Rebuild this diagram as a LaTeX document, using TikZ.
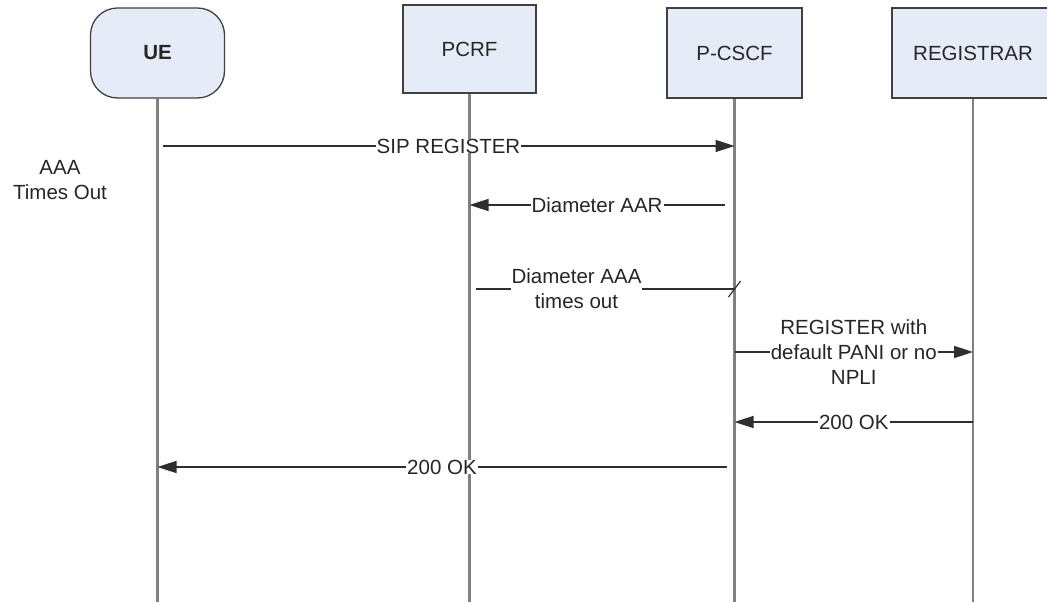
\documentclass[tikz,border=0pt]{standalone}
\usepackage{fontspec}
\setmainfont{Liberation Sans}
\usetikzlibrary{arrows.meta}
\definecolor{boxfill}{HTML}{E6ECF7}
\definecolor{lifegray}{HTML}{808080}
\definecolor{linedark}{HTML}{2E2E2E}
\newcommand{\seqfont}{\fontsize{20.5}{25}\selectfont}
\tikzstyle{entity} = [rectangle, minimum width=134pt, minimum height=90pt, text centered, draw=black!75, line width=1.3pt, fill=boxfill, text=black!85, font=\seqfont]
\tikzstyle{device} = [entity, rounded corners=27pt, font=\seqfont\bfseries]
\tikzstyle{lifeline} = [draw=lifegray, line width=2.6pt]
\tikzstyle{msgline} = [draw=linedark, line width=1.6pt]
\tikzstyle{msg} = [msgline, -{Triangle[length=19pt,width=12pt]}]
\tikzstyle{msglabel} = [fill=white, inner xsep=1pt, inner ysep=0pt, text=black!85, align=center, font=\seqfont]

\begin{document}
\begin{tikzpicture}[x=1pt, y=-1pt]
  \useasboundingbox (0,0) rectangle (1047,604);
  % participants
  \node (ue)[device] at (157.5,53) {UE};
  \node (pcrf)[entity, minimum width=133pt, minimum height=88pt] at (469.5,49) {PCRF};
  \node (pcscf)[entity, minimum width=135pt] at (734.5,53) {P-CSCF};
  \node (registrar)[entity, minimum width=162pt] at (973,53) {REGISTRAR};
  \node (timeout)[align=center, text=black!85, font=\seqfont] at (60,180) {AAA\\Times Out};
  % lifelines
  \draw[lifeline] (ue) -- (ue |- 0,602);
  \draw[lifeline] (pcrf) -- (pcrf |- 0,602);
  \draw[lifeline] (pcscf) -- (pcscf |- 0,602);
  \draw[lifeline] (registrar) -- (registrar |- 0,602);
  % messages
  \draw[msg] ([xshift=5pt]ue |- 0,146) -- node[msglabel]{SIP REGISTER} (pcscf |- 0,146);
  \draw[msg] ([xshift=-10pt]pcscf |- 0,205) -- node[msglabel]{Diameter AAR} (pcrf |- 0,205);
  \draw[msgline] ([xshift=6pt]pcrf |- 0,289) -- node[msglabel, pos=0.39]{Diameter AAA\\times out} (pcscf |- 0,289) coordinate (lost);
  \draw[msgline, line width=1.2pt] ([shift={(-6pt,-8pt)}]lost) -- ([shift={(6pt,8pt)}]lost);
  \draw[msg] (pcscf |- 0,352) -- node[msglabel]{REGISTER with\\default PANI or no\\NPLI} (registrar |- 0,352);
  \draw[msg] (registrar |- 0,422) -- node[msglabel]{200 OK} (pcscf |- 0,422);
  \draw[msg] ([xshift=-8pt]pcscf |- 0,467) -- node[msglabel]{200 OK} (ue |- 0,467);
\end{tikzpicture}
\end{document}
